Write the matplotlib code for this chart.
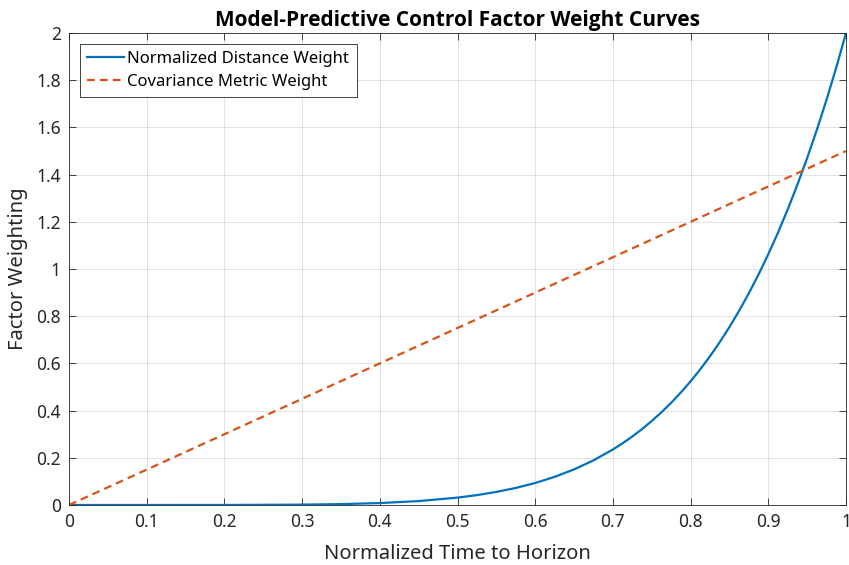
import matplotlib.pyplot as plt

plt.rcParams['font.family'] = ['Noto Sans', 'DejaVu Sans']

# time to horizon (normalized) and the two weighting curves
t_dist = [0.0, 0.1, 0.2, 0.3, 0.35, 0.4, 0.45, 0.5, 0.525, 0.55, 0.575, 0.6,
          0.625, 0.65, 0.675, 0.7, 0.7125, 0.725, 0.7375, 0.75, 0.7625, 0.775,
          0.7875, 0.8, 0.8125, 0.825, 0.8375, 0.85, 0.8625, 0.875, 0.8875,
          0.9, 0.9125, 0.925, 0.9375, 0.95, 0.9625, 0.975, 0.9875, 1.0]
dist_weight = [0.0, 0.000002, 0.00013, 0.0015, 0.0037, 0.0082, 0.0166, 0.0313,
               0.0419, 0.0554, 0.0723, 0.0933, 0.1192, 0.1509, 0.1892, 0.2353,
               0.2617, 0.2904, 0.3218, 0.356, 0.3931, 0.4333, 0.477, 0.5243,
               0.5754, 0.6306, 0.6902, 0.7543, 0.8234, 0.8977, 0.9773, 1.0629,
               1.1546, 1.2528, 1.3579, 1.4702, 1.5901, 1.7181, 1.8546, 2.0]
t_cov = [0.0, 1.0]
cov_weight = [0.0, 1.5]

xticks = [0, 0.1, 0.2, 0.3, 0.4, 0.5, 0.6, 0.7, 0.8, 0.9, 1]
yticks = [0, 0.2, 0.4, 0.6, 0.8, 1, 1.2, 1.4, 1.6, 1.8, 2]

dark = (0.15, 0.15, 0.15)

fig = plt.figure(figsize=(8.49, 5.65), dpi=100)
ax = fig.add_axes([0.0813, 0.1062, 0.9152, 0.8354])

ax.plot(t_dist, dist_weight, color=(0, 0.447, 0.741), lw=1.6,
        label='Normalized Distance Weight')
ax.plot(t_cov, cov_weight, color=(0.85, 0.325, 0.098), lw=1.6,
        ls=(0, (3.5, 2.3)), label='Covariance Metric Weight')

ax.set_xlim(0, 1)
ax.set_ylim(0, 2)
ax.set_xticks(xticks)
ax.set_yticks(yticks)
ax.set_xticklabels([f'{v:g}' for v in xticks])
ax.set_yticklabels([f'{v:g}' for v in yticks])
ax.grid(True, color=dark, alpha=0.15, lw=0.6)
ax.tick_params(direction='in', top=True, right=True, length=5, width=0.6,
               colors=dark, labelsize=12.5, pad=6)
for s in ax.spines.values():
    s.set_color(dark)
    s.set_linewidth(0.6)

ax.set_title('Model-Predictive Control Factor Weight Curves',
             fontsize=15, fontweight='bold', pad=5,
             family=['Open Sans', 'DejaVu Sans'])
ax.set_xlabel('Normalized Time to Horizon', fontsize=14.5, color=dark, labelpad=9)
ax.set_ylabel('Factor Weighting', fontsize=14.5, color=dark, labelpad=6)

leg = ax.legend(loc='upper left', fontsize=12, fancybox=False, framealpha=1,
                edgecolor=dark, borderaxespad=0.65,
                handlelength=2.2, handletextpad=0.2, labelspacing=0.38,
                borderpad=0.45)
leg.get_frame().set_linewidth(0.6)

fig.savefig('out.png', dpi=100)
